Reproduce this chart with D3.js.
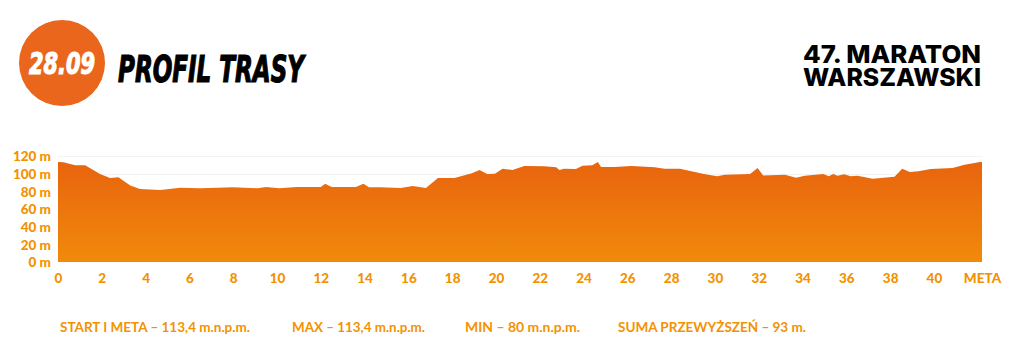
<!DOCTYPE html>
<html>
<head>
<meta charset="utf-8">
<script src="https://cdn.jsdelivr.net/npm/d3@7"></script>
<style>
  html, body { margin: 0; padding: 0; background: #fff; }
  svg { display: block; }
</style>
</head>
<body>
<svg id="chart" width="1024" height="364"></svg>
<script>
// ---- data ----
const distanceKm = [0, 0.25, 0.78, 1.24, 1.92, 2.38, 2.76, 3.3, 3.75, 4.67, 5.58, 6.5, 8, 9.1, 9.5, 10.1, 10.9, 12, 12.2, 12.5, 13.6, 13.95, 14.2, 14.7, 15.65, 16.2, 16.8, 17.35, 18.1, 18.9, 19.25, 19.6, 19.95, 20.3, 20.75, 21.3, 22.2, 22.75, 22.9, 23.1, 23.65, 23.95, 24.4, 24.65, 24.8, 25.4, 26.2, 27.25, 27.7, 28.4, 29.5, 30.1, 30.45, 31.6, 31.95, 32.2, 33.2, 33.7, 34.1, 34.95, 35.2, 35.4, 35.6, 35.9, 36.2, 36.5, 36.8, 37.2, 38.2, 38.55, 38.9, 39.3, 39.85, 40.85, 41.4, 42.1, 42.195];
const elevationM = [113.3, 113, 109.5, 109.5, 99.6, 95, 96, 86.7, 82.6, 81.5, 84, 83.5, 84.5, 83.5, 85, 83.5, 85, 85, 88.6, 85, 85, 88.6, 84.5, 84.5, 83.7, 86, 83.7, 95, 95, 100.4, 104.2, 99.6, 100, 105.7, 104.2, 108.7, 108.3, 107.2, 104.2, 105.7, 105.3, 109, 109.5, 113.3, 107.6, 107.6, 108.7, 107.2, 105.7, 105.7, 99.6, 97, 98.9, 99.6, 106.4, 98, 98.9, 95.4, 97.7, 99.6, 97, 99.6, 97.7, 99.2, 97, 97.7, 96.2, 94.3, 96.6, 105.7, 101.9, 102.6, 105.3, 106.4, 110.2, 113.3, 113.3];
const xTickValues = [0, 2, 4, 6, 8, 10, 12, 14, 16, 18, 20, 22, 24, 26, 28, 30, 32, 34, 36, 38, 40, 42.195];
const xTickLabels = ["0", "2", "4", "6", "8", "10", "12", "14", "16", "18", "20", "22", "24", "26", "28", "30", "32", "34", "36", "38", "40", "META"];
const yTickValues = [0, 20, 40, 60, 80, 100, 120];
const yTickLabels = ["0 m", "20 m", "40 m", "60 m", "80 m", "100 m", "120 m"];
const dateLabel = "28.09";
const titleText = "PROFIL TRASY";
const eventLines = ["47. MARATON", "WARSZAWSKI"];
const footerItems = ["START I META – 113,4 m.n.p.m.", "MAX – 113,4 m.n.p.m.", "MIN – 80 m.n.p.m.", "SUMA PRZEWYŻSZEŃ – 93 m."];

// ---- layout ----
const svg = d3.select("#chart");
const orange = "#F39200";
const plot = { left: 58, right: 982, top: 156, bottom: 262 };

const x = d3.scaleLinear().domain([0, 42.195]).range([plot.left, plot.right]);
const y = d3.scaleLinear().domain([0, 120]).range([plot.bottom, plot.top]);

// gradient
const defs = svg.append("defs");
const grad = defs.append("linearGradient").attr("id", "areaGrad")
  .attr("x1", 0).attr("y1", 0).attr("x2", 0).attr("y2", 1);
grad.append("stop").attr("offset", "0%").attr("stop-color", "#E8640E");
grad.append("stop").attr("offset", "100%").attr("stop-color", "#F18A0B");

// gridlines
svg.append("g").selectAll("line").data(yTickValues.filter(v => v > 0)).join("line")
  .attr("x1", plot.left).attr("x2", plot.right + 1)
  .attr("y1", d => Math.round(y(d)) + 0.5).attr("y2", d => Math.round(y(d)) + 0.5)
  .attr("stroke", "#f2f2f2").attr("stroke-width", 1);

// area
const data = distanceKm.map((d, i) => ({ km: d, m: elevationM[i] }));
const area = d3.area().x(d => x(d.km)).y0(y(0)).y1(d => y(d.m)).curve(d3.curveLinear);
svg.append("path").datum(data).attr("d", area).attr("fill", "url(#areaGrad)");

// y axis
const yAxis = d3.axisLeft(y).tickValues(yTickValues)
  .tickFormat((d, i) => yTickLabels[i]).tickSize(0).tickPadding(0);
const gy = svg.append("g").attr("transform", `translate(${plot.left - 7},0)`).call(yAxis);
gy.select(".domain").remove();
gy.selectAll("text").attr("fill", orange).attr("font-family", "Lato, 'Open Sans', sans-serif")
  .attr("font-weight", 900).attr("font-size", 13.5).attr("dy", "0.36em");

// x axis
const xAxis = d3.axisBottom(x).tickValues(xTickValues)
  .tickFormat((d, i) => xTickLabels[i]).tickSize(0).tickPadding(0);
const gx = svg.append("g").attr("transform", `translate(0,${plot.bottom + 11})`).call(xAxis);
gx.select(".domain").remove();
gx.selectAll("text").attr("fill", orange).attr("font-family", "Lato, 'Open Sans', sans-serif")
  .attr("font-weight", 900).attr("font-size", 13.5).attr("dy", "0.71em");

// header: circle with date
svg.append("circle").attr("cx", 62).attr("cy", 63).attr("r", 43).attr("fill", "#E9661C");
svg.append("text").attr("x", 62).attr("y", 74).attr("text-anchor", "middle")
  .attr("fill", "#fff").attr("font-family", "'Liberation Sans Narrow', 'DejaVu Sans Condensed', sans-serif")
  .attr("font-weight", 700).attr("font-style", "italic").attr("font-size", 31)
  .attr("textLength", 66).attr("lengthAdjust", "spacingAndGlyphs")
  .attr("stroke", "#fff").attr("stroke-width", 1.2)
  .text(dateLabel);
svg.append("text").attr("x", 118).attr("y", 82)
  .attr("fill", "#000").attr("font-family", "'Liberation Sans Narrow', 'DejaVu Sans Condensed', sans-serif")
  .attr("font-weight", 700).attr("font-style", "italic").attr("font-size", 38)
  .attr("textLength", 186).attr("lengthAdjust", "spacingAndGlyphs")
  .attr("stroke", "#000").attr("stroke-width", 1.2)
  .text(titleText);

// event name (right), one text block with two lines
const ev = svg.append("text").attr("class", "event")
  .attr("fill", "#000").attr("font-family", "Inter, 'Open Sans', sans-serif")
  .attr("font-weight", 800).attr("font-size", 24.5);
ev.selectAll("tspan").data(eventLines).join("tspan")
  .attr("x", 803).attr("y", (d, i) => 63 + i * 23)
  .attr("textLength", 178).attr("lengthAdjust", "spacingAndGlyphs")
  .text(d => d);

// footer
const footerX = [60, 292, 465, 618];
const footerW = [190, 133, 115, 188];
svg.selectAll("text.footer").data(footerItems).join("text").attr("class", "footer")
  .attr("x", (d, i) => footerX[i]).attr("y", 332)
  .attr("fill", orange).attr("font-family", "Lato, 'Open Sans', sans-serif")
  .attr("font-weight", 700).attr("font-size", 13.5)
  .attr("textLength", (d, i) => footerW[i]).attr("lengthAdjust", "spacingAndGlyphs")
  .text(d => d);
</script>
</body>
</html>
